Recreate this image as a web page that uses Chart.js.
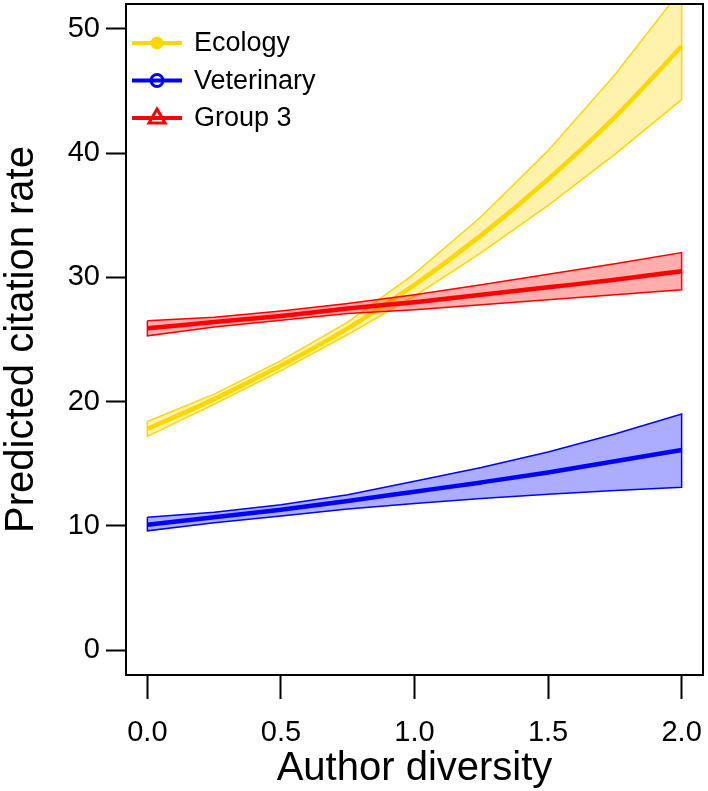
<!DOCTYPE html>
<html>
<head>
<meta charset="utf-8">
<script src="https://cdn.jsdelivr.net/npm/chart.js@4.4.1/dist/chart.umd.min.js"></script>
<style>
  html, body { margin: 0; padding: 0; background: #ffffff; }
  #wrap { width: 708px; height: 791px; }
</style>
</head>
<body>
<div id="wrap"><canvas id="c" width="708" height="791"></canvas></div>
<script>
// ---- data ----
const xValues = [0, 0.25, 0.5, 0.75, 1.0, 1.25, 1.5, 1.75, 2.0];

const ecologyMean  = [17.8, 20.2, 22.9, 25.9, 29.4, 33.4, 37.9, 42.9, 48.6];
const ecologyUpper = [18.4, 20.6, 23.3, 26.4, 30.3, 34.9, 40.2, 46.3, 53.2];
const ecologyLower = [17.2, 19.8, 22.5, 25.4, 28.5, 32.0, 35.8, 39.9, 44.3];

const vetMean  = [10.1, 10.7, 11.3, 12.0, 12.75, 13.5, 14.3, 15.2, 16.1];
const vetUpper = [10.7, 11.1, 11.7, 12.5, 13.6, 14.7, 15.95, 17.4, 19.0];
const vetLower = [9.6, 10.25, 10.8, 11.35, 11.8, 12.2, 12.55, 12.85, 13.1];

const group3Mean  = [25.9, 26.4, 26.9, 27.5, 28.0, 28.6, 29.2, 29.8, 30.5];
const group3Upper = [26.5, 26.8, 27.3, 27.9, 28.6, 29.4, 30.25, 31.1, 32.0];
const group3Lower = [25.3, 26.0, 26.55, 27.1, 27.4, 27.8, 28.2, 28.6, 29.0];

const seriesNames = ['Ecology', 'Veterinary', 'Group 3'];
const xTickValues = [0, 0.5, 1.0, 1.5, 2.0];
const yTickValues = [0, 10, 20, 30, 40, 50];

// ---- styling ----
const FONT = '"Liberation Sans", Arial, Helvetica, sans-serif';
const colors = {
  Ecology:    { line: '#FFD700', fill: 'rgba(255,215,0,0.32)' },
  Veterinary: { line: '#0000FF', fill: 'rgba(0,0,255,0.32)' },
  'Group 3':  { line: '#FF0000', fill: 'rgba(255,0,0,0.32)' }
};

function pts(ys) { return xValues.map((x, i) => ({ x: x, y: ys[i] })); }
function bandPts(upper, lower) {
  const up = pts(upper);
  const lo = pts(lower).reverse();
  return up.concat(lo, [up[0]]);
}

const bandDefs = [
  { name: 'Ecology', upper: ecologyUpper, lower: ecologyLower, mean: ecologyMean },
  { name: 'Veterinary', upper: vetUpper, lower: vetLower, mean: vetMean },
  { name: 'Group 3', upper: group3Upper, lower: group3Lower, mean: group3Mean }
];

const datasets = [];
bandDefs.forEach((d, k) => {
  datasets.push({
    label: d.name + ' CI',
    data: bandPts(d.upper, d.lower),
    showLine: true,
    fill: 'shape',
    backgroundColor: colors[d.name].fill,
    borderColor: colors[d.name].line,
    borderWidth: 1.5,
    pointRadius: 0,
    tension: 0,
    order: 10 - 2 * k
  });
  datasets.push({
    label: d.name,
    data: pts(d.mean),
    showLine: true,
    fill: false,
    borderColor: colors[d.name].line,
    borderWidth: 4.5,
    pointRadius: 0,
    cubicInterpolationMode: 'monotone',
    order: 9 - 2 * k
  });
});

const boxPlugin = {
  id: 'box',
  afterDraw(chart) {
    const { ctx, chartArea: a } = chart;
    ctx.save();
    ctx.strokeStyle = '#000';
    ctx.lineWidth = 2;
    ctx.strokeRect(a.left, a.top, a.right - a.left, a.bottom - a.top);
    ctx.restore();
  }
};

const legendPlugin = {
  id: 'rlegend',
  afterDraw(chart) {
    const { ctx, chartArea: a } = chart;
    const x0 = a.left + 6, x1 = a.left + 56, xm = (x0 + x1) / 2;
    const y0 = a.top + 39, dy = 37.5;
    ctx.save();
    seriesNames.forEach((name, i) => {
      const y = y0 + i * dy;
      const c = colors[name].line;
      ctx.strokeStyle = c;
      ctx.fillStyle = c;
      ctx.lineWidth = 4;
      ctx.beginPath(); ctx.moveTo(x0, y); ctx.lineTo(x1, y); ctx.stroke();
      ctx.lineWidth = 3;
      if (i === 0) {
        ctx.beginPath(); ctx.arc(xm, y, 6.5, 0, Math.PI * 2); ctx.fill();
      } else if (i === 1) {
        ctx.beginPath(); ctx.arc(xm, y, 6, 0, Math.PI * 2); ctx.stroke();
      } else {
        ctx.beginPath();
        ctx.moveTo(xm, y - 9); ctx.lineTo(xm + 8, y + 5); ctx.lineTo(xm - 8, y + 5);
        ctx.closePath(); ctx.stroke();
      }
      ctx.fillStyle = '#000';
      ctx.font = '27px ' + FONT;
      ctx.textBaseline = 'middle';
      ctx.textAlign = 'left';
      ctx.fillText(name, a.left + 68, y + 1);
    });
    ctx.restore();
  }
};

new Chart(document.getElementById('c'), {
  type: 'scatter',
  data: { datasets: datasets },
  options: {
    responsive: false,
    animation: false,
    devicePixelRatio: 1,
    layout: { padding: { top: 4, right: 5, left: 0, bottom: 0 } },
    plugins: { legend: { display: false }, tooltip: { enabled: false } },
    scales: {
      x: {
        type: 'linear',
        min: -0.08, max: 2.08,
        afterBuildTicks(scale) { scale.ticks = xTickValues.map(v => ({ value: v })); },
        afterFit(scale) { scale.height = 116; scale.paddingLeft = 0; scale.paddingRight = 0; },
        ticks: {
          color: '#000', font: { family: FONT, size: 29 }, padding: 17,
          maxRotation: 0, autoSkip: false,
          callback: v => Number(v).toFixed(1)
        },
        grid: { drawOnChartArea: false, drawTicks: true, tickLength: 24, tickWidth: 2, tickColor: '#000' },
        border: { display: false },
        title: { display: true, text: 'Author diversity', color: '#000', font: { family: FONT, size: 40 }, padding: { top: 0, bottom: -2 } }
      },
      y: {
        type: 'linear',
        min: -2, max: 52,
        afterBuildTicks(scale) { scale.ticks = yTickValues.map(v => ({ value: v })); },
        afterFit(scale) { scale.width = 126; scale.paddingTop = 0; scale.paddingBottom = 0; },
        ticks: {
          color: '#000', font: { family: FONT, size: 29 }, padding: 6, autoSkip: false,
          callback: v => String(v)
        },
        grid: { drawOnChartArea: false, drawTicks: true, tickLength: 20, tickWidth: 2, tickColor: '#000' },
        border: { display: false },
        title: { display: true, text: 'Predicted citation rate', color: '#000', font: { family: FONT, size: 40 }, padding: { top: -2, bottom: 0 } }
      }
    }
  },
  plugins: [boxPlugin, legendPlugin]
});
</script>
</body>
</html>
